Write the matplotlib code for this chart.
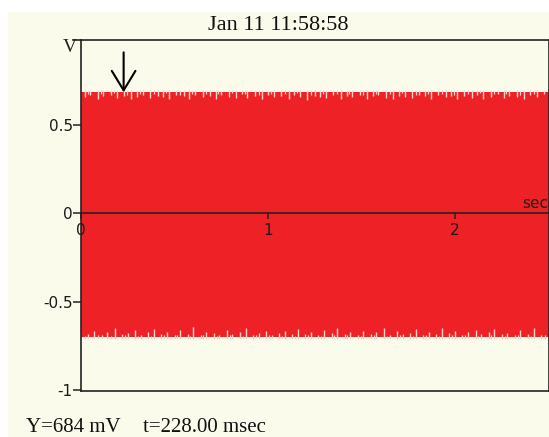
import matplotlib
matplotlib.use('Agg')
import matplotlib.pyplot as plt
from matplotlib.patches import Rectangle

title_text = 'Jan 11 11:58:58'
x_ticks = [0, 1, 2]
y_ticks = [0.5, 0, -0.5, -1]
y_tick_labels = ['0.5', '0', '-0.5', '-1']

# envelope of the dense waveform (V)
env_top = 0.686
env_bottom = -0.702

# cycles whose peaks fall short of the envelope (time s, peak V)
top_notch_t = [0.02, 0.05, 0.09, 0.12, 0.16, 0.19, 0.23, 0.27, 0.30, 0.33,
               0.37, 0.41, 0.44, 0.47, 0.51, 0.55, 0.58, 0.61, 0.65, 0.69,
               0.72, 0.75, 0.79, 0.83, 0.86, 0.89, 0.93, 0.97, 1.00, 1.03,
               1.07, 1.11, 1.14, 1.17, 1.21, 1.25, 1.28, 1.31, 1.35, 1.39,
               1.42, 1.45, 1.49, 1.53, 1.56, 1.59, 1.63, 1.67, 1.70, 1.73,
               1.77, 1.81, 1.84, 1.87, 1.91, 1.95, 1.98, 2.01, 2.05, 2.09,
               2.12, 2.15, 2.19, 2.23, 2.26, 2.29, 2.33, 2.37, 2.40, 2.44]
top_notch_v = [0.655, 0.668, 0.648, 0.662, 0.671, 0.650, 0.665, 0.644, 0.660, 0.669,
               0.652, 0.666, 0.658, 0.647, 0.670, 0.661, 0.649, 0.667, 0.656, 0.663,
               0.645, 0.668, 0.659, 0.651, 0.672, 0.654, 0.664, 0.646, 0.669, 0.657,
               0.662, 0.649, 0.671, 0.655, 0.643, 0.666, 0.660, 0.652, 0.668, 0.647,
               0.664, 0.656, 0.670, 0.648, 0.661, 0.667, 0.653, 0.644, 0.665, 0.658,
               0.650, 0.669, 0.662, 0.646, 0.671, 0.657, 0.663, 0.649, 0.666, 0.654,
               0.668, 0.645, 0.660, 0.672, 0.651, 0.664, 0.657, 0.647, 0.669, 0.655]
# shallower dips between the main ones
top_small_t = [0.035, 0.105, 0.175, 0.245, 0.315, 0.39, 0.455, 0.53, 0.595, 0.67,
               0.735, 0.81, 0.875, 0.95, 1.015, 1.09, 1.155, 1.23, 1.295, 1.37,
               1.435, 1.51, 1.575, 1.65, 1.715, 1.79, 1.855, 1.93, 1.995, 2.07,
               2.135, 2.21, 2.275, 2.35, 2.42, 2.475]
top_small_v = [0.675, 0.672, 0.678, 0.670, 0.676, 0.673, 0.679, 0.671, 0.675, 0.677,
               0.672, 0.678, 0.674, 0.670, 0.676, 0.673, 0.679, 0.671, 0.675, 0.672,
               0.677, 0.670, 0.676, 0.674, 0.678, 0.671, 0.673, 0.677, 0.670, 0.675,
               0.678, 0.672, 0.676, 0.671, 0.674, 0.677]
bot_notch_t = [0.04, 0.07, 0.11, 0.14, 0.18, 0.22, 0.25, 0.29, 0.32, 0.36,
               0.39, 0.43, 0.46, 0.50, 0.53, 0.57, 0.60, 0.64, 0.67, 0.71,
               0.74, 0.78, 0.81, 0.85, 0.88, 0.92, 0.95, 0.99, 1.02, 1.06,
               1.09, 1.13, 1.16, 1.20, 1.23, 1.27, 1.30, 1.34, 1.37, 1.41,
               1.44, 1.48, 1.51, 1.55, 1.58, 1.62, 1.65, 1.69, 1.72, 1.76,
               1.79, 1.83, 1.86, 1.90, 1.93, 1.97, 2.00, 2.04, 2.07, 2.11,
               2.14, 2.18, 2.21, 2.25, 2.28, 2.32, 2.35, 2.39, 2.42, 2.46]
bot_notch_v = [-0.682, -0.665, -0.690, -0.672, -0.648, -0.685, -0.676, -0.660, -0.688, -0.670,
               -0.655, -0.684, -0.674, -0.691, -0.662, -0.680, -0.645, -0.687, -0.669, -0.678,
               -0.689, -0.658, -0.683, -0.671, -0.650, -0.686, -0.675, -0.664, -0.690, -0.679,
               -0.668, -0.685, -0.652, -0.681, -0.673, -0.688, -0.661, -0.677, -0.646, -0.684,
               -0.670, -0.689, -0.663, -0.680, -0.674, -0.651, -0.687, -0.667, -0.682, -0.676,
               -0.657, -0.690, -0.672, -0.684, -0.649, -0.679, -0.666, -0.688, -0.673, -0.660,
               -0.685, -0.670, -0.654, -0.683, -0.677, -0.689, -0.662, -0.681, -0.647, -0.686]
bot_small_t = [0.02, 0.09, 0.16, 0.235, 0.305, 0.375, 0.445, 0.515, 0.585, 0.655,
               0.725, 0.795, 0.865, 0.935, 1.005, 1.075, 1.145, 1.215, 1.285, 1.355,
               1.425, 1.495, 1.565, 1.635, 1.705, 1.775, 1.845, 1.915, 1.985, 2.055,
               2.125, 2.195, 2.265, 2.335, 2.405, 2.48]
bot_small_v = [-0.693, -0.690, -0.695, -0.689, -0.692, -0.694, -0.688, -0.691, -0.695, -0.690,
               -0.693, -0.689, -0.694, -0.691, -0.688, -0.692, -0.695, -0.690, -0.693, -0.689,
               -0.691, -0.694, -0.688, -0.692, -0.690, -0.695, -0.689, -0.693, -0.691, -0.688,
               -0.694, -0.690, -0.692, -0.689, -0.693, -0.691]

# cursor readout
cursor_t = 0.228   # s
cursor_y = 0.684   # V
cursor_top = 0.91

CREAM = '#FAFBEA'
RED = '#EE2226'
NOTCH = '#F8D6CE'

W, H = 549, 437
fig = plt.figure(figsize=(W / 100, H / 100), dpi=100, facecolor='white')
fig.patches.append(Rectangle((8 / W, 0), 1, 1 - 12 / H, transform=fig.transFigure,
                             facecolor=CREAM, edgecolor='none', zorder=-10))

ax = fig.add_axes([81 / W, 1 - 391 / H, 467.5 / W, 351 / H])
ax.set_facecolor(CREAM)
ax.set_xlim(0, 2.5)
ax.set_ylim(-1.005, 0.98)

# waveform body + short cycles
ax.fill_between(ax.get_xlim(), env_bottom, env_top, color=RED, lw=0, zorder=1)
ax.vlines(top_notch_t, top_notch_v, env_top + 0.01, color=NOTCH, lw=1.0, zorder=2)
ax.vlines(top_small_t, top_small_v, env_top + 0.01, color=NOTCH, lw=0.9, zorder=2)
ax.vlines(bot_notch_t, env_bottom - 0.01, bot_notch_v, color=NOTCH, lw=1.0, zorder=2)
ax.vlines(bot_small_t, env_bottom - 0.01, bot_small_v, color=NOTCH, lw=0.9, zorder=2)

# time axis drawn through zero
for s in ax.spines.values():
    s.set_color('#222222')
    s.set_linewidth(1.2)
ax.spines['bottom'].set_position(('data', 0))
ax.spines['bottom'].set_zorder(5)
ax.plot([0, 1], [0, 0], transform=ax.transAxes, color='#222222', lw=1.2, clip_on=False, zorder=5)
ax.plot([-8 / 467.5, 0], [1, 1], transform=ax.transAxes, color='#222222', lw=1.2, clip_on=False)

ax.set_xticks(x_ticks)
ax.set_xticklabels([str(v) for v in x_ticks])
ax.set_yticks(y_ticks)
ax.set_yticklabels(y_tick_labels)
ax.tick_params(axis='x', direction='out', length=4, width=1.1, pad=3,
               labelsize=11, colors='#222222')
ax.tick_params(axis='y', direction='out', length=6, width=1.1, pad=0,
               labelsize=11, colors='#222222')
for lbl in ax.get_xticklabels() + ax.get_yticklabels():
    lbl.set_color('#1a1a1a')

ax.text(2.358, 0.012, 'sec', fontsize=11, ha='left', va='bottom', color='#1a1a1a', clip_on=False)

# cursor arrow
ax.annotate('', xy=(cursor_t, cursor_y), xytext=(cursor_t, cursor_top),
            arrowprops=dict(arrowstyle='->,head_length=1.4,head_width=0.85',
                            lw=1.5, color='black', shrinkA=0, shrinkB=0), zorder=6)

fig.text(70 / W, 1 - 47 / H, 'V', fontsize=14, family='Liberation Serif',
         ha='center', va='center', color='#222222')
fig.text(278 / W, 1 - 26 / H, title_text, fontsize=16, family='Liberation Serif',
         ha='center', va='center', color='#111111')
fig.text(26 / W, 1 - 428 / H, f'Y={cursor_y * 1000:.0f} mV', fontsize=15,
         family='Liberation Serif', ha='left', va='center', color='#111111')
fig.text(143 / W, 1 - 428 / H, f't={cursor_t * 1000:.2f} msec', fontsize=15,
         family='Liberation Serif', ha='left', va='center', color='#111111')

fig.savefig('out.png', dpi=100, facecolor=fig.get_facecolor())
